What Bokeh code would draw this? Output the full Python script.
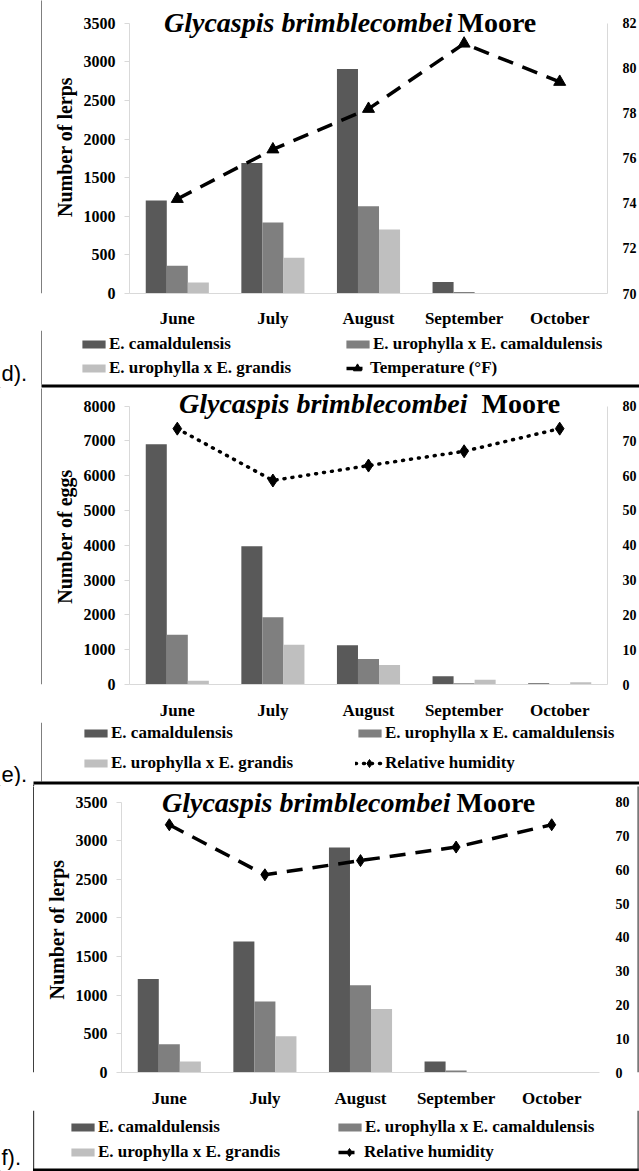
from bokeh.plotting import figure
from bokeh.models import (ColumnDataSource, FactorRange, Range1d, LinearAxis, FixedTicker,
                          Label, Legend, LegendItem, BoxAnnotation)
from bokeh.transform import dodge
from bokeh.layouts import column, row
from bokeh.embed import file_html
from bokeh.resources import INLINE

# ---------------- data ----------------
months = ["June", "July", "August", "September", "October"]
series_labels = ["E. camaldulensis", "E. urophylla x E. camaldulensis", "E. urophylla x E. grandis"]

# d) number of lerps + temperature
lerps_camaldulensis_d = [1205, 1690, 2910, 150, 5]
lerps_uro_cam_d = [358, 920, 1130, 20, 5]
lerps_uro_grandis_d = [141, 462, 830, 8, 5]
temperature_f = [74.2, 76.4, 78.2, 81.1, 79.4]

# e) number of eggs + relative humidity
eggs_camaldulensis = [6900, 3970, 1125, 235, 35]
eggs_uro_cam = [1430, 1935, 735, 35, 10]
eggs_uro_grandis = [110, 1145, 560, 140, 65]
humidity_e = [73.5, 58.6, 62.9, 67.0, 73.5]

# f) number of lerps + relative humidity
lerps_camaldulensis_f = [1211, 1696, 2911, 143, 0]
lerps_uro_cam_f = [367, 920, 1131, 25, 0]
lerps_uro_grandis_f = [143, 468, 823, 0, 0]
humidity_f = [73.3, 58.5, 62.7, 66.7, 73.3]

lerp_ticks = [0, 500, 1000, 1500, 2000, 2500, 3000, 3500]
egg_ticks = [0, 1000, 2000, 3000, 4000, 5000, 6000, 7000, 8000]
temp_ticks = [70, 72, 74, 76, 78, 80, 82]
rh_ticks = [0, 10, 20, 30, 40, 50, 60, 70, 80]

# ---------------- styles ----------------
SERIF = "Liberation Serif"
SANS = "Liberation Sans"
AXIS_GREY = "#d9d9d9"
BORDER_GREY = "#7f7f7f"
BOX_DARK = "#404040"
BAR_COLORS = ["#595959", "#7f7f7f", "#bfbfbf"]
LABEL_H = 20
PAGE_W = 639


class Geo:
    """Maps page pixel coordinates to frame-relative screen units of one figure."""
    def __init__(self, ox, oy, frame_left, frame_bottom):
        self.ox, self.oy, self.fl, self.fb = ox, oy, frame_left, frame_bottom

    def sx(self, xr):
        return xr - self.ox - self.fl

    def su(self, yr):
        return self.fb - (yr - self.oy)


def box(p, g, x0, y0, x1, y1, col):
    p.add_layout(BoxAnnotation(left=g.sx(x0), right=g.sx(x1), top=g.su(y0), bottom=g.su(y1),
                               left_units="screen", right_units="screen",
                               top_units="screen", bottom_units="screen",
                               fill_color=col, fill_alpha=1, line_color=None, line_alpha=0,
                               level="overlay"))


def blank(w, h):
    p = figure(width=w, height=h, x_range=Range1d(0, w), y_range=Range1d(0, h),
               x_axis_type=None, y_axis_type=None, output_backend="svg",
               toolbar_location=None, tools="", min_border=0)
    p.outline_line_color = None
    p.background_fill_color = "white"
    p.border_fill_color = "white"
    return p


def strip(ox, oy, w, h, lines, extra=()):
    p = blank(w, h)
    g = Geo(ox, oy, 0, h)
    for (x0, x1, col) in lines:
        box(p, g, x0, oy, x1, oy + h, col)
    for (x0, y0, x1, y1, col) in extra:
        box(p, g, x0, y0, x1, y1, col)
    return p


def chart(c):
    ox, oy, w, h = c["canvas"]
    L, R, T, B = c["frame"]
    mbl = L - ox
    mbr = (ox + w) - R
    mbb = (oy + h) - B
    fb = h - mbb
    g = Geo(ox, oy, mbl, fb)
    k = (B - oy) / (B - T)  # frame spans from canvas top down to the value axis
    ymax = c["y_max"]
    lo, hi = c["right_range"]

    p = figure(width=w, height=h, x_range=FactorRange(factors=months),
               y_range=Range1d(0, ymax * k), output_backend="svg",
               toolbar_location=None, tools="",
               min_border_left=mbl, min_border_right=mbr,
               min_border_top=0, min_border_bottom=mbb)
    p.extra_y_ranges = {"right": Range1d(lo, lo + (hi - lo) * k)}
    p.outline_line_color = None
    p.xgrid.visible = False
    p.ygrid.visible = False
    p.background_fill_color = "white"
    p.border_fill_color = "white"

    xa = p.xaxis[0]
    xa.axis_line_color = AXIS_GREY
    xa.major_tick_line_color = None
    xa.minor_tick_line_color = None
    xa.major_label_text_font = SERIF
    xa.major_label_text_font_style = "bold"
    xa.major_label_text_font_size = "17px"
    xa.major_label_text_color = "black"
    xa.major_label_standoff = c["cat_standoff"]

    ya = p.yaxis[0]
    ya.ticker = FixedTicker(ticks=c["y_ticks"])
    ya.bounds = (0, ymax)
    ya.axis_line_color = AXIS_GREY
    ya.major_tick_line_color = AXIS_GREY
    ya.major_tick_in = 0
    ya.major_tick_out = 5
    ya.minor_tick_line_color = None
    ya.major_label_standoff = 9
    ya.major_label_text_font = SERIF
    ya.major_label_text_font_style = "bold"
    ya.major_label_text_font_size = "16px"
    ya.major_label_text_color = "black"
    ya.axis_label = c["y_label"]
    ya.axis_label_text_font = SERIF
    ya.axis_label_text_font_style = "bold"
    ya.axis_label_text_font_size = "20px"
    ya.axis_label_text_color = "black"
    ya.axis_label_standoff = 5

    ra = LinearAxis(y_range_name="right", ticker=FixedTicker(ticks=c["right_ticks"]))
    ra.bounds = (lo, hi)
    ra.axis_line_color = AXIS_GREY if c["right_line"] else None
    ra.major_tick_line_color = None
    ra.minor_tick_line_color = None
    ra.major_tick_in = 0
    ra.major_tick_out = 0
    ra.major_label_standoff = c["right_standoff"]
    ra.major_label_text_font = SERIF
    ra.major_label_text_font_style = "bold"
    ra.major_label_text_font_size = "14px"
    ra.major_label_text_color = "black"
    p.add_layout(ra, "right")

    s0, s1, s2 = c["bars"]
    src = ColumnDataSource(dict(month=months, s0=s0, s1=s1, s2=s2, line=c["line"]))
    for i, (key, off) in enumerate([("s0", -0.22), ("s1", 0.0), ("s2", 0.22)]):
        p.vbar(x=dodge("month", off, range=p.x_range), top=key, width=0.22,
               source=src, fill_color=BAR_COLORS[i], line_color=None)
    p.line(x="month", y="line", source=src, y_range_name="right",
           line_color="black", line_width=c["line_width"],
           line_dash=c["line_dash"], line_cap=c["line_cap"])
    p.scatter(x="month", y="line", source=src, y_range_name="right",
              marker=c["marker"], size=c["marker_size"],
              fill_color="black", line_color="black")

    ty = c["title_y"]
    ix, mx = c["title_split"]
    p.add_layout(Label(x=g.sx(ix), y=g.su(ty), x_units="screen", y_units="screen",
                       text="Glycaspis brimblecombei", text_font=SERIF,
                       text_font_style="bold italic", text_font_size="28px",
                       text_align="right", text_baseline="middle", text_color="black"))
    p.add_layout(Label(x=g.sx(mx), y=g.su(ty), x_units="screen", y_units="screen",
                       text="Moore", text_font=SERIF, text_font_style="bold",
                       text_font_size="28px", text_align="left",
                       text_baseline="middle", text_color="black"))
    for (x0, y0, x1, y1, col) in c.get("chart_decor", []):
        box(p, g, x0, y0, x1, y1, col)
    return p


def bottom(c):
    oy, h = c["bottom"]
    w = PAGE_W
    p = blank(w, h)
    g = Geo(0, oy, 0, h)

    # off-canvas proxies that carry the legend glyph styles
    bar_rs = [p.vbar(x=[-100], top=[1], bottom=[0], width=1, fill_color=col, line_color=None)
              for col in BAR_COLORS]
    lr = p.line(x=[-100, -90], y=[-100, -100], line_color="black", line_width=c["line_width"],
                line_dash=c["line_dash"], line_cap=c["line_cap"])
    mr = p.scatter(x=[-100], y=[-100], marker=c["marker"], size=c["marker_size"],
                   fill_color="black", line_color="black")

    def leg(renderers, label, left_ref, cy_ref, gw, gh, standoff):
        ih = max(gh, LABEL_H)
        lg = Legend(items=[LegendItem(label=label, renderers=renderers)],
                    location=(g.sx(left_ref), g.su(cy_ref) - ih / 2),
                    orientation="vertical", glyph_width=gw, glyph_height=gh,
                    label_standoff=standoff, label_height=LABEL_H,
                    padding=0, margin=0, spacing=0,
                    border_line_color=None, background_fill_alpha=0,
                    label_text_font=SERIF, label_text_font_style="bold",
                    label_text_font_size="17px", label_text_color="black")
        p.add_layout(lg)

    r1, r2 = c["legend_rows"]
    c1, c2 = c["legend_cols"]
    leg([bar_rs[0]], series_labels[0], c1 - 3, r1, 29, 10, 1)
    leg([bar_rs[1]], series_labels[1], c2 - 3, r1, 29, 10, 1)
    leg([bar_rs[2]], series_labels[2], c1 - 3, r2, 29, 10, 1)
    lx, lw, lst = c["line_leg"]
    leg([lr, mr], c["line_label"], lx, r2, lw, 20, lst)

    p.add_layout(Label(x=g.sx(1), y=g.su(c["tag_y"]), x_units="screen", y_units="screen",
                       text=c["tag"], text_font=SANS, text_font_size="22px",
                       text_align="left", text_baseline="middle", text_color="black"))
    for (x0, y0, x1, y1, col) in c["decor"]:
        box(p, g, x0, y0, x1, y1, col)
    return p


panel_d = dict(
    canvas=(42, 0, PAGE_W - 42, 330), frame=(129, 608, 23, 295),
    y_max=3500, y_ticks=lerp_ticks, y_label="Number of lerps",
    right_range=(70, 82), right_ticks=temp_ticks, right_standoff=15, right_line=True,
    cat_standoff=9,
    bars=(lerps_camaldulensis_d, lerps_uro_cam_d, lerps_uro_grandis_d),
    line=temperature_f, line_label="Temperature (°F)",
    line_width=3.5, line_dash="16 10", line_cap="butt", marker="triangle", marker_size=12,
    title_y=24, title_split=(452, 457),
    bottom=(330, 58),
    legend_rows=(344, 368), legend_cols=(82, 346), line_leg=(346, 22, 2),
    tag="d).", tag_y=373,
    decor=[(40.5, 330, 41.5, 384, BORDER_GREY),
           (41, 384, PAGE_W, 387, "black")],
)

panel_e = dict(
    canvas=(42, 388, PAGE_W - 42, 334), frame=(129, 608, 406, 692),
    y_max=8000, y_ticks=egg_ticks, y_label="Number of eggs",
    right_range=(0, 80), right_ticks=rh_ticks, right_standoff=15, right_line=True,
    cat_standoff=10,
    bars=(eggs_camaldulensis, eggs_uro_cam, eggs_uro_grandis),
    line=humidity_e, line_label="Relative humidity",
    line_width=3.5, line_dash="1 7", line_cap="round", marker="diamond", marker_size=13,
    title_y=411, title_split=(467, 481),
    chart_decor=[(42, 389.5, PAGE_W, 390.7, "black")],
    bottom=(722, 64),
    legend_rows=(733, 763), legend_cols=(84, 358), line_leg=(355, 28, 2),
    tag="e).", tag_y=774,
    decor=[(40.5, 722, 41.5, 781, BORDER_GREY),
           (33, 781, PAGE_W, 784, "black"),
           (32.5, 784, 33.7, 786, BOX_DARK)],
)

panel_f = dict(
    canvas=(34, 786, 602, 324), frame=(121, 599, 802, 1079),
    y_max=3500, y_ticks=lerp_ticks, y_label="Number of lerps",
    right_range=(0, 80), right_ticks=rh_ticks, right_standoff=16, right_line=False,
    cat_standoff=10,
    bars=(lerps_camaldulensis_f, lerps_uro_cam_f, lerps_uro_grandis_f),
    line=humidity_f, line_label="Relative humidity",
    line_width=3.5, line_dash="16 10", line_cap="butt", marker="diamond", marker_size=12,
    title_y=809, title_split=(450, 456),
    bottom=(1110, 61),
    legend_rows=(1127, 1152), legend_cols=(71, 338), line_leg=(338, 22, 4),
    tag="f).", tag_y=1157,
    decor=[(32.5, 1110, 33.7, 1171, BOX_DARK),
           (637, 1110, 638.2, 1171, BOX_DARK),
           (32.5, 1168, 638.2, 1171, "black")],
)

row_d = row(strip(0, 0, 42, 330, [(40.5, 41.5, BORDER_GREY)]), chart(panel_d), spacing=0)
row_e = row(strip(0, 388, 42, 334, [],
                  extra=[(40.5, 390, 41.5, 722, BORDER_GREY),
                         (41, 389.5, 42, 390.7, "black")]),
            chart(panel_e), spacing=0)
row_f = row(strip(0, 786, 34, 324, [(32.5, 33.7, BOX_DARK)]), chart(panel_f),
            strip(636, 786, 3, 324, [], extra=[(637, 782, 638.2, 1110, BOX_DARK)]),
            spacing=0)

layout = column(row_d, bottom(panel_d), row_e, bottom(panel_e), row_f, bottom(panel_f),
                spacing=0)
open("out.html", "w").write(file_html(layout, INLINE))
